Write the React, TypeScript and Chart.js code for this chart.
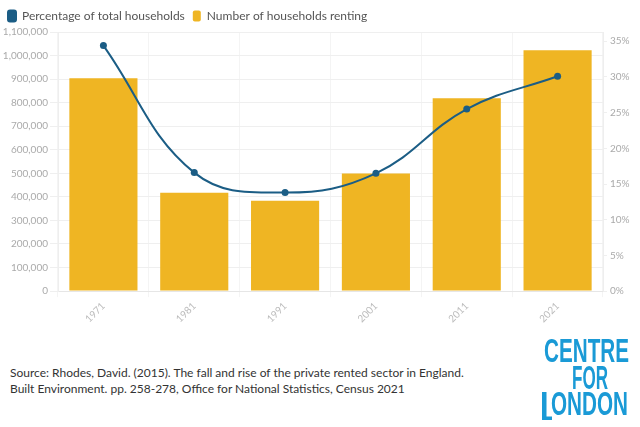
import React, { useEffect, useRef } from "react";
import { Chart, registerables } from "chart.js";

Chart.register(...registerables);

const years = ["1971", "1981", "1991", "2001", "2011", "2021"];
const householdsRenting = [904000, 418000, 384000, 499000, 819000, 1023000];
const percentOfTotal = [34.4, 16.6, 13.8, 16.5, 25.5, 30.1];
const leftTicks = [0, 100000, 200000, 300000, 400000, 500000, 600000, 700000, 800000, 900000, 1000000, 1100000];
const rightTicks = [0, 5, 10, 15, 20, 25, 30, 35];
const seriesNames = ["Percentage of total households", "Number of households renting"];
const sourceLines = [
  "Source: Rhodes, David. (2015). The fall and rise of the private rented sector in England.",
  "Built Environment. pp. 258-278, Office for National Statistics, Census 2021",
];

const BLUE = "#1b5d85";
const YELLOW = "#efb523";
const LOGO = "#1a9ad6";
const FONT = "Lato, 'Open Sans', sans-serif";

export default function App() {
  const ref = useRef<HTMLCanvasElement | null>(null);

  useEffect(() => {
    if (!ref.current) return;
    const chart = new Chart(ref.current, {
      type: "bar",
      data: {
        labels: years,
        datasets: [
          {
            type: "line",
            label: seriesNames[0],
            data: percentOfTotal,
            yAxisID: "y1",
            borderColor: BLUE,
            backgroundColor: BLUE,
            borderWidth: 2,
            pointRadius: 3.5,
            pointBackgroundColor: BLUE,
            pointBorderWidth: 0,
            tension: 0.4,
            order: 0,
          } as any,
          {
            type: "bar",
            label: seriesNames[1],
            data: householdsRenting,
            yAxisID: "y",
            backgroundColor: YELLOW,
            borderWidth: 0,
            categoryPercentage: 0.75,
            barPercentage: 1,
            order: 1,
          },
        ],
      },
      options: {
        animation: false,
        responsive: false,
        maintainAspectRatio: false,
        layout: { padding: { left: 0, right: 0, top: 0, bottom: 4 } },
        plugins: {
          tooltip: { enabled: false },
          legend: {
            display: true,
            position: "top",
            align: "start",
            labels: {
              boxWidth: 8,
              boxHeight: 11,
              useBorderRadius: true,
              borderRadius: 2,
              padding: 8,
              color: "#555",
              font: { family: FONT, size: 12 },
            },
          },
        },
        scales: {
          x: {
            offset: true,
            grid: { color: "#f4f4f4", drawTicks: true, tickLength: 6 },
            border: { color: "#e6e6e6" },
            ticks: {
              color: "#bbb",
              font: { family: FONT, size: 10 },
              maxRotation: 45,
              minRotation: 45,
            },
          },
          y: {
            position: "left",
            min: 0,
            max: 1100000,
            afterBuildTicks: (s: any) => {
              s.ticks = leftTicks.map((v) => ({ value: v }));
            },
            afterFit: (s: any) => {
              s.width = 58;
            },
            grid: { color: "#efefef", tickLength: 8 },
            border: { color: "#eeeeee" },
            ticks: {
              color: "#aaa",
              font: { family: FONT, size: 10 },
              padding: 2,
              callback: (v: any) => Number(v).toLocaleString("en-US"),
            },
          },
          y1: {
            position: "right",
            min: 0,
            max: 36.3,
            afterBuildTicks: (s: any) => {
              s.ticks = rightTicks.map((v) => ({ value: v }));
            },
            afterFit: (s: any) => {
              s.width = 37;
            },
            grid: { drawOnChartArea: false, color: "#efefef", tickLength: 4 },
            border: { color: "#eeeeee" },
            ticks: {
              color: "#aaa",
              font: { family: FONT, size: 10 },
              padding: 3,
              callback: (v: any) => v + "%",
            },
          },
        },
      },
    });
    return () => chart.destroy();
  }, []);

  const logoFont = "'Liberation Sans Narrow', 'Liberation Sans', 'DejaVu Sans Condensed', sans-serif";

  return (
    <div style={{ position: "absolute", left: 0, top: 0, width: 640, height: 427, background: "#fff", overflow: "hidden" }}>
      <canvas ref={ref} width={640} height={330} style={{ position: "absolute", left: 0, top: 2, width: 640, height: 330 }} />
      <div style={{ position: "absolute", left: 10, top: 365, fontFamily: FONT, fontSize: 12, lineHeight: "16px", color: "#333" }}>
        {sourceLines.map((l, i) => (
          <div key={i}>{l}</div>
        ))}
      </div>
      <svg width={640} height={427} style={{ position: "absolute", left: 0, top: 0 }}>
        <g fill={LOGO} fontFamily={logoFont} fontWeight={700} fontSize={33.5}>
          <text x={544} y={362} textLength={85} lengthAdjust="spacingAndGlyphs">CENTRE</text>
          <text x={572} y={389} textLength={36} lengthAdjust="spacingAndGlyphs">FOR</text>
          <rect x={542} y={392} width={4.5} height={28} />
          <rect x={542} y={416.5} width={10} height={3.5} />
          <text x={551} y={415} textLength={77} lengthAdjust="spacingAndGlyphs">ONDON</text>
        </g>
      </svg>
    </div>
  );
}
